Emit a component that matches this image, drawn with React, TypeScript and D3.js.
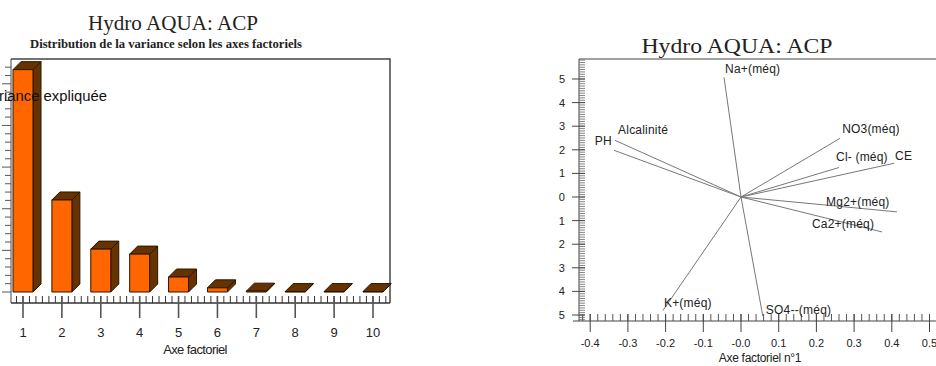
import React from "react";
import * as d3 from "d3";

// left chart: variance explained per factorial axis
const axes = ["1", "2", "3", "4", "5", "6", "7", "8", "9", "10"];
const variancePct = [53.4, 22.1, 10.3, 9.1, 3.6, 1.0, 0.2, 0.1, 0.1, 0.1];

// right chart: correlation circle (axis 1 vs axis 2)
const variables = ["Na+(méq)", "NO3(méq)", "Cl- (méq)", "CE", "Mg2+(méq)", "Ca2+(méq)", "PH", "Alcalinité", "K+(méq)", "SO4--(méq)"];
const factor1 = [-0.045, 0.263, 0.26, 0.406, 0.414, 0.374, -0.337, -0.334, -0.207, 0.058];
const factor2 = [0.506, 0.249, 0.125, 0.143, -0.063, -0.148, 0.198, 0.24, -0.481, -0.506];
const xTickValues = [-0.4, -0.3, -0.2, -0.1, 0, 0.1, 0.2, 0.3, 0.4, 0.5];
const yTickValues = [0.5, 0.4, 0.3, 0.2, 0.1, 0, -0.1, -0.2, -0.3, -0.4, -0.5];

// label offsets (px) relative to the end of each vector
const labelOffsets: [number, number, string][] = [
  [1, -5, "start"], [2, -5, "start"], [-3, -7, "start"], [1, -3, "start"], [-71, -6, "start"],
  [-70, -4, "start"], [-2, -5, "end"], [3, -6, "start"], [1, -4, "start"], [3, -2, "start"],
];

const BarChart3D = () => {
  const base = 292;
  const axisY = 303;
  const left = 11;
  const right = 390;
  const top = 59;
  const depth = 8;
  const barW = 20;

  const x = d3.scalePoint<string>().domain(axes).range([23, 373]);
  const y = d3.scaleLinear().domain([0, 55]).range([base, base - 55 * 4.164]);

  const minor = d3.range(0, 10 * 6 + 3).map(i => 23 - 6.5 * 2 + i * 6.48).filter(v => v > left && v < right);
  const yMinor = d3.range(0, 56, 2);

  return (
    <g>
      <text x={173} y={30} textAnchor="middle" fontFamily="'Liberation Serif', serif" fontSize={21}
        textLength={170} lengthAdjust="spacingAndGlyphs" fill="#222">Hydro AQUA: ACP</text>
      <text x={166} y={48} textAnchor="middle" fontFamily="'Liberation Serif', serif" fontSize={13} fontWeight="bold"
        textLength={272} lengthAdjust="spacingAndGlyphs" fill="#222">Distribution de la variance selon les axes factoriels</text>

      {/* frame */}
      <path d={`M${left},${top}H${right}V${axisY}`} fill="none" stroke="#444" strokeWidth={1.5} />
      <line x1={left} x2={left} y1={top} y2={axisY} stroke="#444" strokeWidth={1} />
      {yMinor.map(v => (
        <line key={v} x1={v % 10 === 0 ? 2 : 5} x2={left} y1={y(v)} y2={y(v)} stroke="#555" strokeWidth={1} />
      ))}

      {/* bars */}
      {variancePct.map((v, i) => {
        const cx = x(axes[i]) as number;
        const x0 = cx - barW / 2;
        const x1 = cx + barW / 2;
        const yt = y(v);
        return (
          <g key={i} stroke="#2a1500" strokeWidth={1} strokeLinejoin="round">
            <path d={`M${x1},${yt}L${x1 + depth},${yt - depth}V${base - depth}L${x1},${base}Z`} fill="#663300" />
            <path d={`M${x0},${yt}L${x0 + depth},${yt - depth}H${x1 + depth}L${x1},${yt}Z`} fill="#663300" />
            <rect x={x0} y={yt} width={barW} height={base - yt} fill="#FF6600" />
          </g>
        );
      })}

      <text x={107} y={101} textAnchor="end" fontFamily="'Liberation Sans', Arial, sans-serif" fontSize={14}
        textLength={125} lengthAdjust="spacingAndGlyphs" fill="#111">Variance expliquée</text>

      {/* x axis */}
      <line x1={left} x2={right} y1={axisY} y2={axisY} stroke="#333" strokeWidth={1.5} />
      {minor.map((v, i) => (
        <line key={i} x1={v} x2={v} y1={axisY - 7} y2={axisY} stroke="#333" strokeWidth={1} />
      ))}
      {axes.map(a => (
        <g key={a}>
          <line x1={x(a)} x2={x(a)} y1={axisY - 7} y2={axisY + 15} stroke="#555" strokeWidth={1.6} />
          <text x={x(a)} y={337} textAnchor="middle" fontFamily="'Liberation Sans', Arial, sans-serif"
            fontSize={13} fill="#222">{a}</text>
        </g>
      ))}
      <text x={195} y={354} textAnchor="middle" fontFamily="'Liberation Sans', Arial, sans-serif" fontSize={13}
        letterSpacing={-0.6} fill="#222">Axe factoriel</text>
    </g>
  );
};

const CorrelationPlot = () => {
  const x = d3.scaleLinear().domain([0, 0.1]).range([741, 778.7]);
  const y = d3.scaleLinear().domain([0, 0.1]).range([197, 173.4]);
  const axisX = 579;
  const axisY = 321;
  const top = 59;
  const rightEdge = 936;

  const xMinor = d3.range(-21, 27).map(i => i * 0.02).filter(v => x(v) > axisX && x(v) < rightEdge);
  const yMinor = d3.range(-52, 59).map(i => i * 0.01).filter(v => y(v) > top && y(v) < axisY);
  const fmt = (v: number) => (Math.abs(v) < 1e-9 ? "-0.0" : v.toFixed(1));
  const sans = "'Liberation Sans', Arial, sans-serif";

  return (
    <g>
      <defs>
        <clipPath id="rclip"><rect x={559} y={0} width={400} height={366} /></clipPath>
      </defs>
      <text x={737} y={53} textAnchor="middle" fontFamily="'Liberation Serif', serif" fontSize={20}
        textLength={191} lengthAdjust="spacingAndGlyphs" fill="#222">Hydro AQUA: ACP</text>

      <line x1={axisX} x2={rightEdge} y1={top} y2={top} stroke="#444" strokeWidth={1} />
      <line x1={axisX} x2={axisX} y1={top} y2={axisY} stroke="#444" strokeWidth={1} />
      <line x1={axisX - 6} x2={rightEdge} y1={axisY} y2={axisY} stroke="#444" strokeWidth={1} />

      {yMinor.map((v, i) => (
        <line key={i} x1={axisX} x2={axisX + 6} y1={y(v)} y2={y(v)} stroke="#666" strokeWidth={0.8} />
      ))}
      <g clipPath="url(#rclip)">
        {yTickValues.map(v => (
          <g key={v}>
            <line x1={axisX - 7} x2={axisX + 6} y1={y(v)} y2={y(v)} stroke="#444" strokeWidth={1} />
            <text x={565} y={y(v) + 4} textAnchor="end" fontFamily={sans} fontSize={11} fill="#222">{fmt(v)}</text>
          </g>
        ))}
      </g>

      {xMinor.map((v, i) => (
        <line key={i} x1={x(v)} x2={x(v)} y1={axisY - 7} y2={axisY} stroke="#555" strokeWidth={1} />
      ))}
      {xTickValues.map(v => (
        <g key={v}>
          <line x1={x(v)} x2={x(v)} y1={axisY - 7} y2={axisY + 11} stroke="#444" strokeWidth={1} />
          <text x={x(v)} y={347} textAnchor="middle" fontFamily={sans} fontSize={11} fill="#222">{fmt(v)}</text>
        </g>
      ))}
      <text x={760} y={362} textAnchor="middle" fontFamily={sans} fontSize={12} letterSpacing={-0.3} fill="#222">Axe factoriel n°1</text>

      {variables.map((name, i) => {
        const ex = x(factor1[i]);
        const ey = y(factor2[i]);
        const [dx, dy, anchor] = labelOffsets[i];
        return (
          <g key={name}>
            <line x1={x(0)} y1={y(0)} x2={ex} y2={ey} stroke="#777" strokeWidth={1} />
            <text x={ex + dx} y={ey + dy} textAnchor={anchor} fontFamily={sans} fontSize={12}
              letterSpacing={0.2} fill="#222">{name}</text>
          </g>
        );
      })}
    </g>
  );
};

export default function App() {
  return (
    <svg width={936} height={366} style={{ position: "absolute", left: 0, top: 0, background: "#fff" }}>
      <rect width={936} height={366} fill="#fff" />
      <BarChart3D />
      <CorrelationPlot />
    </svg>
  );
}
